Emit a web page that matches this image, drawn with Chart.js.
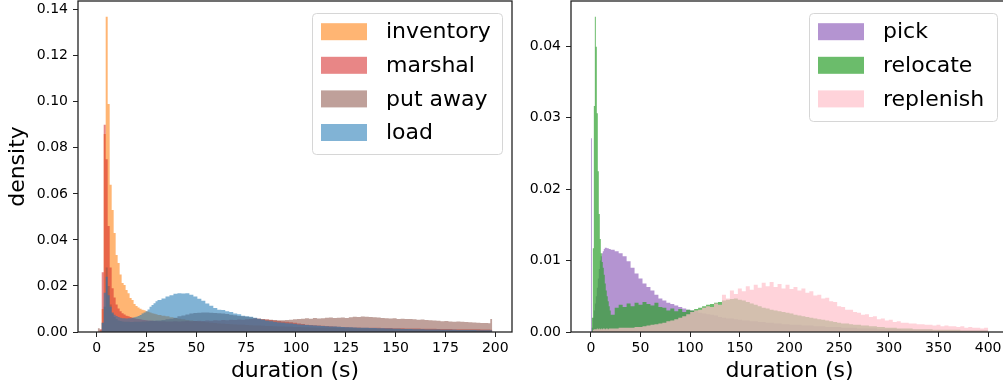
<!DOCTYPE html>
<html>
<head>
<meta charset="utf-8">
<script src="https://cdn.jsdelivr.net/npm/chart.js@4.4.1/dist/chart.umd.min.js"></script>
<style>
  html, body { margin: 0; padding: 0; background: #fff; overflow: hidden; width: 1003px; height: 387px; }
  #left { position: absolute; left: 0; top: 0; }
  #right { position: absolute; left: 510px; top: 0; }
</style>
</head>
<body>
<canvas id="left" width="530" height="387"></canvas>
<canvas id="right" width="498" height="387"></canvas>
<script>
// ---- left panel: bins of 1 s up to 30 s, then 2 s, last two bins 1 s ----
const leftEdges = [];
for (let e = 0.5; e < 30.5; e += 1) leftEdges.push(e);
for (let e = 30.5; e < 196.5; e += 2) leftEdges.push(e);
leftEdges.push(196.5, 197.5, 198.5);

const leftXTicks = [0, 25, 50, 75, 100, 125, 150, 175, 200];
const leftYTicks = [0, 0.02, 0.04, 0.06, 0.08, 0.10, 0.12, 0.14];

const inventory = [
  0, 0, 0.010, 0.086, 0.137, 0.099, 0.064, 0.053, 0.043, 0.0335,
  0.030, 0.025, 0.0213, 0.0204, 0.0183, 0.0168, 0.0148, 0.0139, 0.0122, 0.0113,
  0.0106, 0.0101, 0.0097, 0.0094, 0.0090, 0.0088, 0.0085, 0.0082, 0.0079, 0.0077,
  .0074, .0071, .0068, .0064, .0061, .0058, .0055, .0052, .0050, .0048,
  .0046, .0044, .0042, .0040, .0039, .0037, .0036, .0035, .0034, .0033,
  .0032, .0031, .0030, .0029, .0028, .0028, .0027, .0026, .0026, .0025,
  .0024, .0024, .0023, .0023, .0022, .0022, .0021, .0021, .0020, .0020,
  .0019, .0019, .0018, .0018, .0018, .0017, .0017, .0016, .0016, .0016,
  .0015, .0015, .0015, .0014, .0014, .0014, .0013, .0013, .0013, .0012,
  .0012, .0012, .0012, .0011, .0011, .0011, .0011, .0010, .0010, .0010,
  .0010, .0009, .0009, .0009, .0009, .0009, .0008, .0008, .0008, .0008,
  .0008, .0008, .0007, .0007, .0007
];
const marshal = [
  0, 0.0012, 0.026, 0.090, 0.075, 0.046, 0.028, 0.019, 0.015, 0.012,
  0.0102, 0.0090, 0.0082, 0.0076, 0.0071, 0.0068, 0.0065, 0.0062, 0.0060, 0.0058,
  0.0056, 0.0055, 0.0053, 0.0052, 0.0051, 0.0050, 0.0050, 0.0049, 0.0048, 0.0048,
  .0047, .0047, .0046, .0046, .0047, .0046, .0047, .0048, .0047, .0048,
  .0049, .0048, .0050, .0049, .0051, .0050, .0052, .0051, .0053, .0052,
  .0054, .0053, .0055, .0056, .0060, .0058, .0055, .0054, .0052, .0050,
  .0048, .0046, .0044, .0042, .0040, .0037, .0035, .0032, .0030, .0029,
  .0028, .0027, .0026, .0025, .0024, .0023, .0022, .0022, .0021, .0020,
  .0020, .0019, .0019, .0018, .0018, .0018, .0017, .0017, .0017, .0016,
  .0016, .0016, .0015, .0015, .0015, .0015, .0014, .0014, .0014, .0014,
  .0013, .0013, .0013, .0013, .0012, .0012, .0012, .0012, .0012, .0012,
  .0012, .0011, .0011, .0011, .0010
];
const putAway = [
  0.0016, 0.0008, 0.0040, 0.0110, 0.0280, 0.0200, 0.0120, 0.0080, 0.0065, 0.0056,
  0.0050, 0.0048, 0.0046, 0.0045, 0.0044, 0.0044, 0.0043, 0.0043, 0.0044, 0.0044,
  0.0045, 0.0045, 0.0046, 0.0046, 0.0047, 0.0047, 0.0048, 0.0049, 0.0049, 0.0050,
  .0050, .0052, .0055, .0058, .0062, .0068, .0072, .0076, .0080, .0083,
  .0084, .0085, .0085, .0084, .0083, .0082, .0080, .0078, .0075, .0073,
  .0070, .0068, .0066, .0064, .0060, .0058, .0056, .0054, .0053, .0052,
  .0051, .0051, .0052, .0053, .0055, .0057, .0058, .0060, .0058, .0061,
  .0059, .0060, .0062, .0063, .0061, .0062, .0063, .0061, .0064, .0066,
  .0065, .0067, .0066, .0065, .0064, .0063, .0061, .0060, .0059, .0060,
  .0057, .0058, .0056, .0057, .0055, .0053, .0054, .0052, .0051, .0050,
  .0049, .0047, .0048, .0046, .0045, .0046, .0044, .0043, .0042, .0041,
  .0040, .0039, .0039, .0038, .0056
];
const load = [
  0, 0, 0.004, 0.017, 0.024, 0.016, 0.011, 0.0085, 0.0075, 0.0070,
  0.0065, 0.0062, 0.0060, 0.0060, 0.0059, 0.0060, 0.0060, 0.0062, 0.0064, 0.0066,
  0.0070, 0.0074, 0.0080, 0.0085, 0.0090, 0.0098, 0.0110, 0.0117, 0.0125, 0.0134,
  .0139, .0146, .0154, .0160, .0166, .0168, .0167, .0168, .0162, .0154,
  .0144, .0136, .0124, .0114, .0104, .0097, .0096, .0090, .0087, .0080,
  .0077, .0071, .0068, .0066, .0062, .0058, .0053, .0049, .0047, .0043,
  .0041, .0040, .0038, .0037, .0035, .0033, .0032, .0030, .0029, .0028,
  .0027, .0026, .0025, .0024, .0024, .0023, .0022, .0021, .0021, .0020,
  .0019, .0019, .0018, .0017, .0017, .0016, .0016, .0015, .0015, .0014,
  .0014, .0013, .0013, .0013, .0012, .0012, .0012, .0011, .0011, .0011,
  .0011, .0010, .0010, .0010, .0010, .0009, .0009, .0009, .0009, .0009,
  .0008, .0008, .0008, .0008, .0008
];

// ---- right panel: bins of 1 s up to 20 s, then 4 s ----
const rightEdges = [];
for (let e = 0; e < 20; e += 1) rightEdges.push(e);
for (let e = 20; e <= 400; e += 4) rightEdges.push(e);

const rightXTicks = [0, 50, 100, 150, 200, 250, 300, 350, 400];
const rightYTicks = [0, 0.01, 0.02, 0.03, 0.04];

const pick = [
  0.0271, 0.0006, 0.0020, 0.0030, 0.0040, 0.0050, 0.0062, 0.0075, 0.0088, 0.0100,
  0.0106, 0.0110, 0.0113, 0.0116, 0.0118, 0.0118, 0.0117, 0.0117, 0.0116, 0.0116,
  .0115, .0113, .0110, .0106, .0099, .0090, .0082, .0075, .0068, .0063,
  .0058, .0052, .0047, .0044, .0041, .0039, .0037, .0035, .0033, .0031,
  .0030, .0029, .0027, .0026, .0025, .0024, .0023, .0021, .0020, .0019,
  .0019, .0018, .0017, .0016, .0016, .0015, .0015, .0014, .0014, .0013,
  .0013, .0012, .0012, .0011, .0011, .0010, .0010, .0010, .0009, .0009,
  .0009, .0008, .0008, .0008, .0007, .0007, .0007, .0007, .0006, .0006,
  .0006, .0006, .0005, .0005, .0005, .0005, .0005, .0004, .0004, .0004,
  .0004, .0004, .0004, .0003, .0003, .0003, .0003, .0003, .0003, .0003,
  .0003, .0002, .0002, .0002, .0002, .0002, .0002, .0002, .0002, .0002,
  .0002, .0002, .0002, .0002, .0002
];
const relocate = [
  0, 0.0020, 0.0117, 0.0316, 0.0441, 0.0399, 0.0306, 0.0225, 0.0165, 0.0130,
  0.0110, 0.0098, 0.0090, 0.0080, 0.0068, 0.0058, 0.0050, 0.0043, 0.0036, 0.0030,
  .0024, .0034, .0038, .0035, .0040, .0036, .0041, .0038, .0042, .0039,
  .0037, .0041, .0035, .0034, .0030, .0033, .0029, .0032, .0028, .0031,
  .0030, .0032, .0034, .0036, .0038, .0039, .0041, .0042, .0044, .0045,
  .0046, .0047, .0045, .0044, .0042, .0040, .0038, .0036, .0034, .0033,
  .0031, .0030, .0029, .0028, .0027, .0026, .0024, .0023, .0022, .0021,
  .0020, .0019, .0018, .0017, .0016, .0015, .0014, .0013, .0012, .0012,
  .0011, .0010, .0010, .0009, .0009, .0008, .0008, .0007, .0007, .0006,
  .0006, .0006, .0005, .0005, .0005, .0005, .0004, .0004, .0004, .0004,
  .0004, .0003, .0003, .0003, .0003, .0003, .0003, .0003, .0002, .0002,
  .0002, .0002, .0002, .0002, .0002
];
const replenish = [
  0, 0, .0003, .0004, .0004, .0004, .0005, .0004, .0005, .0004,
  .0005, .0004, .0005, .0005, .0004, .0005, .0005, .0004, .0005, .0005,
  .0005, .0005, .0006, .0006, .0006, .0006, .0007, .0007, .0008, .0009,
  .0010, .0011, .0012, .0013, .0015, .0016, .0018, .0020, .0022, .0025,
  .0028, .0030, .0031, .0034, .0036, .0035, .0040, .0038, .0052, .0047,
  .0058, .0053, .0061, .0057, .0064, .0059, .0066, .0062, .0069, .0064,
  .0070, .0063, .0067, .0061, .0066, .0060, .0063, .0058, .0061, .0055,
  .0057, .0051, .0052, .0047, .0048, .0043, .0042, .0036, .0035, .0031,
  .0031, .0028, .0027, .0024, .0025, .0021, .0022, .0018, .0019, .0016,
  .0017, .0014, .0015, .0013, .0013, .0012, .0012, .0011, .0011, .0010,
  .0010, .0009, .0010, .0008, .0009, .0008, .0008, .0007, .0008, .0006,
  .0007, .0006, .0006, .0005, .0006
];

// histogram outline: value i holds from edges[i] to edges[i+1]
function toSteps(edges, vals) {
  const pts = vals.map((v, i) => ({ x: edges[i], y: v }));
  pts.push({ x: edges[vals.length], y: 0 });
  return pts;
}

const FONT = 'DejaVu Sans';
const INK = '#222';

const framePlugin = {
  id: 'frame',
  afterDatasetsDraw(chart) {
    const { ctx, chartArea: a } = chart;
    ctx.save();
    ctx.strokeStyle = INK;
    ctx.lineWidth = 1.3;
    ctx.strokeRect(a.left, a.top, a.right - a.left, a.bottom - a.top);
    ctx.restore();
  }
};

const boxLegend = {
  id: 'boxLegend',
  afterDraw(chart, args, o) {
    const ctx = chart.ctx;
    ctx.save();
    ctx.beginPath();
    ctx.roundRect(o.x + 0.5, o.y + 0.5, o.w, o.h, 4);
    ctx.fillStyle = 'rgba(255,255,255,0.8)';
    ctx.fill();
    ctx.strokeStyle = '#d6d6d6';
    ctx.lineWidth = 1;
    ctx.stroke();
    ctx.font = '22px "' + FONT + '"';
    ctx.textBaseline = 'middle';
    chart.data.datasets.forEach((ds, i) => {
      const cy = o.y + 18.7 + i * 33.6;
      ctx.fillStyle = ds.backgroundColor;
      ctx.fillRect(o.x + 9, cy - 8.5, 46, 17);
      ctx.fillStyle = '#000';
      ctx.fillText(ds.label, o.x + 74, cy + 1);
    });
    ctx.restore();
  }
};

// no automatic label padding: the plot box is placed by hand
function noPad(s) {
  s.paddingTop = 0; s.paddingBottom = 0; s.paddingLeft = 0; s.paddingRight = 0;
}

function axis(min, max, ticks, fmt, title, extra) {
  return Object.assign({
    type: 'linear', min: min, max: max,
    afterBuildTicks: s => { s.ticks = ticks.map(v => ({ value: v })); },
    grid: { display: true, drawOnChartArea: false, drawTicks: true, tickLength: 5, color: INK, lineWidth: 1 },
    border: { display: false },
    ticks: { color: '#000', font: { family: FONT, size: 14 }, maxRotation: 0, autoSkip: false, callback: fmt },
    title: { display: !!title, text: title, color: '#000', font: { family: FONT, size: 22 } }
  }, extra);
}

function histChart(id, edges, sets, xr, xTicks, yMax, yTicks, yTitle, yWidth, padRight, legend) {
  const x = axis(xr[0], xr[1], xTicks, v => String(v), 'duration (s)',
    { afterFit: s => { s.height = 55; noPad(s); } });
  x.ticks.padding = 3;
  x.title.padding = { top: 0, bottom: 3 };
  const y = axis(0, yMax, yTicks, v => v.toFixed(2), yTitle,
    { afterFit: s => { s.width = yWidth; noPad(s); } });
  y.ticks.padding = 5;
  y.title.padding = { top: 5, bottom: 0 };
  return new Chart(document.getElementById(id), {
    type: 'line',
    data: {
      datasets: sets.map(s => ({
        label: s.label,
        data: toSteps(edges, s.values),
        stepped: true,
        fill: 'origin',
        backgroundColor: s.color,
        borderColor: 'rgba(0,0,0,0)',
        borderWidth: 0,
        pointRadius: 0,
        order: s.order
      }))
    },
    options: {
      responsive: false,
      animation: false,
      devicePixelRatio: 1,
      events: [],
      layout: { padding: { top: 1, right: padRight, bottom: 0, left: 0 } },
      scales: { x: x, y: y },
      plugins: { legend: { display: false }, tooltip: { enabled: false }, boxLegend: legend }
    },
    plugins: [framePlugin, boxLegend]
  });
}

histChart('left', leftEdges, [
  { label: 'inventory', values: inventory, color: 'rgba(255,127,14,0.58)', order: 4 },
  { label: 'marshal', values: marshal, color: 'rgba(214,39,40,0.56)', order: 3 },
  { label: 'put away', values: putAway, color: 'rgba(140,86,75,0.56)', order: 2 },
  { label: 'load', values: load, color: 'rgba(31,119,180,0.56)', order: 1 }
], [-9.4, 208.4], leftXTicks, 0.1438, leftYTicks, 'density', 78, 18,
  { x: 312, y: 13, w: 190, h: 141 });

histChart('right', rightEdges, [
  { label: 'pick', values: pick, color: 'rgba(148,103,189,0.7)', order: 3 },
  { label: 'relocate', values: relocate, color: 'rgba(44,160,44,0.7)', order: 2 },
  { label: 'replenish', values: replenish, color: 'rgba(255,192,203,0.7)', order: 1 }
], [-20, 420], rightXTicks, 0.0463, rightYTicks, '', 61, 0,
  { x: 299, y: 13, w: 188, h: 108 });
</script>
</body>
</html>
